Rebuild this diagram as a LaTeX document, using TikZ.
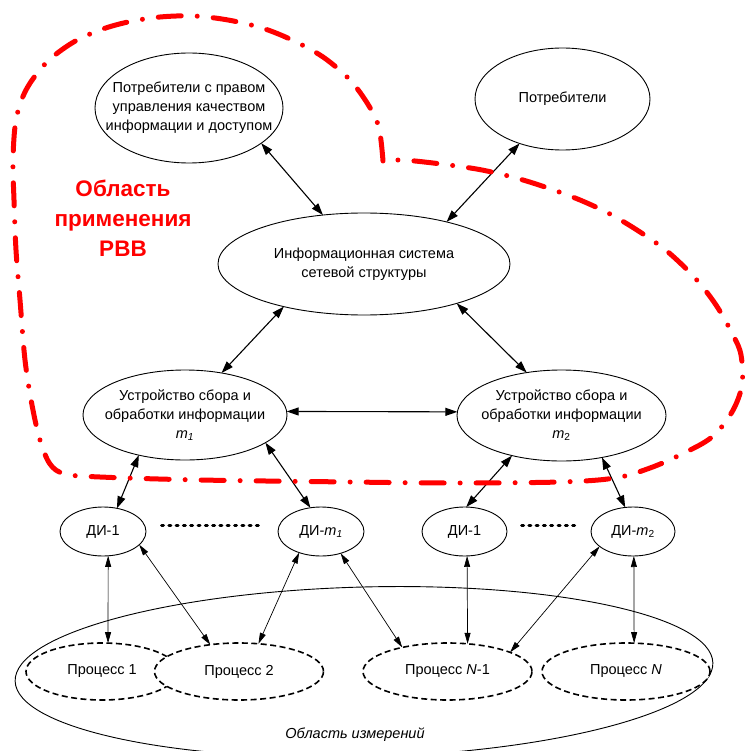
\documentclass[tikz,border=0pt]{standalone}
\usepackage{fontspec}
\setmainfont{Liberation Sans}
\usetikzlibrary{shapes.geometric,arrows.meta}

\tikzset{
  ell/.style={ellipse, draw, line width=0.9pt, fill=white, inner sep=0pt, outer sep=0pt},
  proc/.style={ellipse, draw, line width=1.6pt, dash pattern=on 6pt off 3.5pt, fill=white, inner sep=0pt, outer sep=0pt},
  txt/.style={align=center, inner sep=0pt, font=\fontsize{14.5}{19}\selectfont},
  link/.style={{Triangle[length=12pt,width=8pt]}-{Triangle[length=12pt,width=8pt]}, line width=1.1pt},
  thinlink/.style={{Triangle[length=11pt,width=6pt]}-{Triangle[length=11pt,width=6pt]}, line width=0.7pt},
  dotrow/.style={line width=3pt, line cap=round, dash pattern=on 2pt off 5.3pt},
  zone/.style={red, line width=5pt, line cap=round, line join=round,
    dash pattern=on 23pt off 16pt on 0pt off 16pt},
}

\begin{document}
\begin{tikzpicture}[x=1pt,y=-1pt]
\useasboundingbox (0,0) rectangle (744,751);

% measurement area with the processes
\node[ell, rotate=1.5, minimum width=698pt, minimum height=170pt] (area) at (364,672) {};
\node[txt, font=\fontsize{14.5}{19}\selectfont\itshape] (areat) at (355,735) {Область измерений};

\node[proc, minimum width=152pt, minimum height=57pt] (p1) at (102,671.5) {};
\node[txt] (p1t) at (p1) {Процесс 1};
\node[proc, minimum width=169pt, minimum height=57pt] (p2) at (239,671.5) {};
\node[txt] (p2t) at (p2) {Процесс 2};
\node[proc, minimum width=169pt, minimum height=57pt] (pn1) at (447.5,671.5) {};
\node[txt] (pn1t) at (pn1) {Процесс {\itshape N}-1};
\node[proc, minimum width=168pt, minimum height=57pt] (pn) at (626,671.5) {};
\node[txt] (pnt) at (pn) {Процесс {\itshape N}};

% consumers and the network system
\node[ell, minimum width=188pt, minimum height=110pt] (e1) at (189,108) {};
\node[txt] (e1t) at (e1) {Потребители с правом\\управления качеством\\информации и доступом};
\node[ell, minimum width=175pt, minimum height=102pt] (e2) at (562.5,99) {};
\node[txt] (e2t) at (e2) {Потребители};
\node[ell, minimum width=292pt, minimum height=102pt] (e3) at (364,264) {};
\node[txt] (e3t) at (e3) {Информационная система\\сетевой структуры};

% data collection devices
\node[ell, minimum width=204pt, minimum height=90pt] (e4) at (185,415) {};
\node[txt] (e4t) at (e4) {Устройство сбора и\\обработки информации\\{\itshape m}\textsubscript{\itshape 1}};
\node[ell, minimum width=209pt, minimum height=91pt] (e5) at (561.5,415.5) {};
\node[txt] (e5t) at (e5) {Устройство сбора и\\обработки информации\\{\itshape m}\textsubscript{2}};

% sensors
\node[ell, minimum width=86pt, minimum height=49pt] (d1) at (103,531.5) {};
\node[txt] (d1t) at (d1) {ДИ-1};
\node[ell, minimum width=86pt, minimum height=49pt] (dm1) at (321,531.5) {};
\node[txt] (dm1t) at (dm1) {ДИ-{\itshape m}\textsubscript{\itshape 1}};
\node[ell, minimum width=85pt, minimum height=49pt] (d1r) at (464.5,531.5) {};
\node[txt] (d1rt) at (d1r) {ДИ-1};
\node[ell, minimum width=84pt, minimum height=49pt] (dm2) at (633,531.5) {};
\node[txt] (dm2t) at (dm2) {ДИ-{\itshape m}\textsubscript{2}};

\draw[dotrow] ([shift={(15.5,-6.5)}]d1.east) -- ([shift={(-14.5,-6.5)}]dm1.west);
\draw[dotrow] ([shift={(14.5,-6.5)}]d1r.east) -- ([shift={(-12.5,-6.5)}]dm2.west);

% upper links
\draw[link] (e1.-26.9) -- (e3.130.2);
\draw[link] (e2.226.9) -- (e3.27.4);
\draw[link] (e3.208.2) -- (e4.49.2);
\draw[link] (e3.-23.1) -- (e5.129.3);
\draw[link] (e4.2) -- (e5.178);
\draw[link] (e4.221.2) -- (d1.59.7);
\draw[link] (e4.-19.9) -- (dm1.114.2);
\draw[link] (e5.219.5) -- (d1r.86.5);
\draw[link] (e5.-46.4) -- (dm2.108);

% sensor to process links
\draw[thinlink] (d1.-78.4) -- (p1.78);
\draw[thinlink] (d1.-20) -- (p2.137.3);
\draw[thinlink] (dm1.224.3) -- (p2.55.6);
\draw[thinlink] (dm1.-48.5) -- (pn1.152.2);
\draw[thinlink] (d1r.-84.2) -- (pn1.54.9);
\draw[thinlink] (dm2.204.7) -- (pn1.17.1);
\draw[thinlink] (dm2.-88) -- (pn.74.3);

% scope of the approach
\draw[zone] plot[smooth, tension=0.55] coordinates {
  (383,161) (379,128) (369,106) (350,80) (323,57) (292,40) (262,28) (228,20)
  (194,16) (160,17) (128,22) (100,30) (72,43) (46,63) (26,90) (16,120) (13,160)
  (14,200) (16,250) (20,300) (25,360) (32,405) (40,440) (50,464) (65,474)
  (100,477) (200,480) (350,482) (450,483) (560,482) (615,478) (650,468)
  (682,454) (712,437) (732,412) (742,385) (741,355) (733,335) (716,305)
  (695,278) (668,252) (640,232) (610,214) (580,200) (548,188) (516,178)
  (482,170) (449,165) (415,161) (398,160)} -- (383,161);
\node[align=center, text=red, inner sep=0pt, font=\fontsize{22.5}{30}\selectfont\bfseries] (zonet) at (123,218) {Область\\применения\\РВВ};
\end{tikzpicture}
\end{document}
